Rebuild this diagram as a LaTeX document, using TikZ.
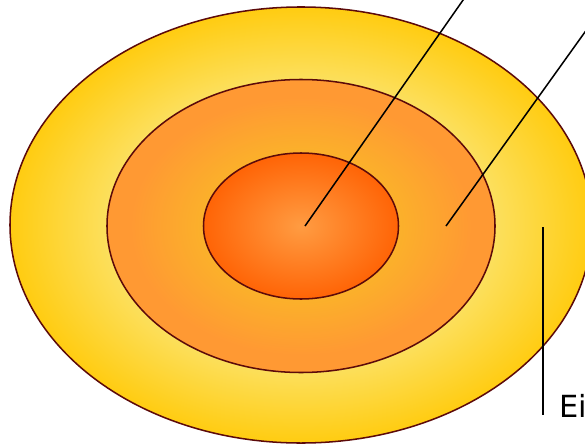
\documentclass[tikz,border=0pt]{standalone}
\usepackage{fontspec}
\newfontfamily\labelfont{DejaVu Sans}
\usepackage{tikz}
\usetikzlibrary{arrows,arrows.meta,calc,positioning,shapes.geometric,backgrounds}

\definecolor{rimcol}{HTML}{5C0A0A}
\definecolor{goldedge}{HTML}{FFCC11}
\definecolor{goldlight}{HTML}{FCE163}
\definecolor{orangeedge}{HTML}{FF9933}
\definecolor{orangelight}{HTML}{FBB22A}
\definecolor{coreedge}{HTML}{FF6406}
\definecolor{corelight}{HTML}{FF9C42}

% radial shadings, 25bp = rim of the ellipse
\pgfdeclareradialshading{outershade}{\pgfpoint{0bp}{0bp}}{color(0bp)=(goldlight); color(16bp)=(goldlight); color(25bp)=(goldedge); color(50bp)=(goldedge)}
\pgfdeclareradialshading{middleshade}{\pgfpoint{0bp}{0bp}}{color(0bp)=(orangelight); color(12bp)=(orangelight); color(22bp)=(orangeedge); color(50bp)=(orangeedge)}
\pgfdeclareradialshading{coreshade}{\pgfpoint{0bp}{0bp}}{color(0bp)=(corelight); color(25bp)=(coreedge); color(50bp)=(coreedge)}

\tikzset{
  layer/.style={ellipse, draw=rimcol, line width=1.3pt, inner sep=0pt},
  leader/.style={draw=black, line width=1.3pt}
}

\begin{document}
\begin{tikzpicture}[x=0.03cm, y=-0.03cm, font=\labelfont]
    \useasboundingbox (0,0) rectangle (585,444);
    \clip (0,0) rectangle (585,444);

    % Layers
    \node[layer, shading=outershade, minimum width=17.46cm, minimum height=13.08cm] (outer) at (301,225) {};
    \node[layer, shading=middleshade, minimum width=11.64cm, minimum height=8.79cm] (middle) at (301,226) {};
    \node[layer, shading=coreshade, minimum width=5.85cm, minimum height=4.38cm] (core) at (301,226) {};

    % Leader lines
    \coordinate (corept) at (305,226);
    \coordinate (coreend) at (468,-7);
    \coordinate (midpt) at (446,226);
    \coordinate (midend) at (595,18);
    \coordinate (outpt) at (543,227);
    \coordinate (outend) at (543,415);
    \draw[leader] (corept) -- (coreend);
    \draw[leader] (midpt) -- (midend);
    \draw[leader] (outpt) -- (outend);

    % Label
    \node[anchor=base west, inner sep=0pt, font=\labelfont\fontsize{26}{31}\selectfont] (eilabel) at (559,417) {Ei};
\end{tikzpicture}
\end{document}
